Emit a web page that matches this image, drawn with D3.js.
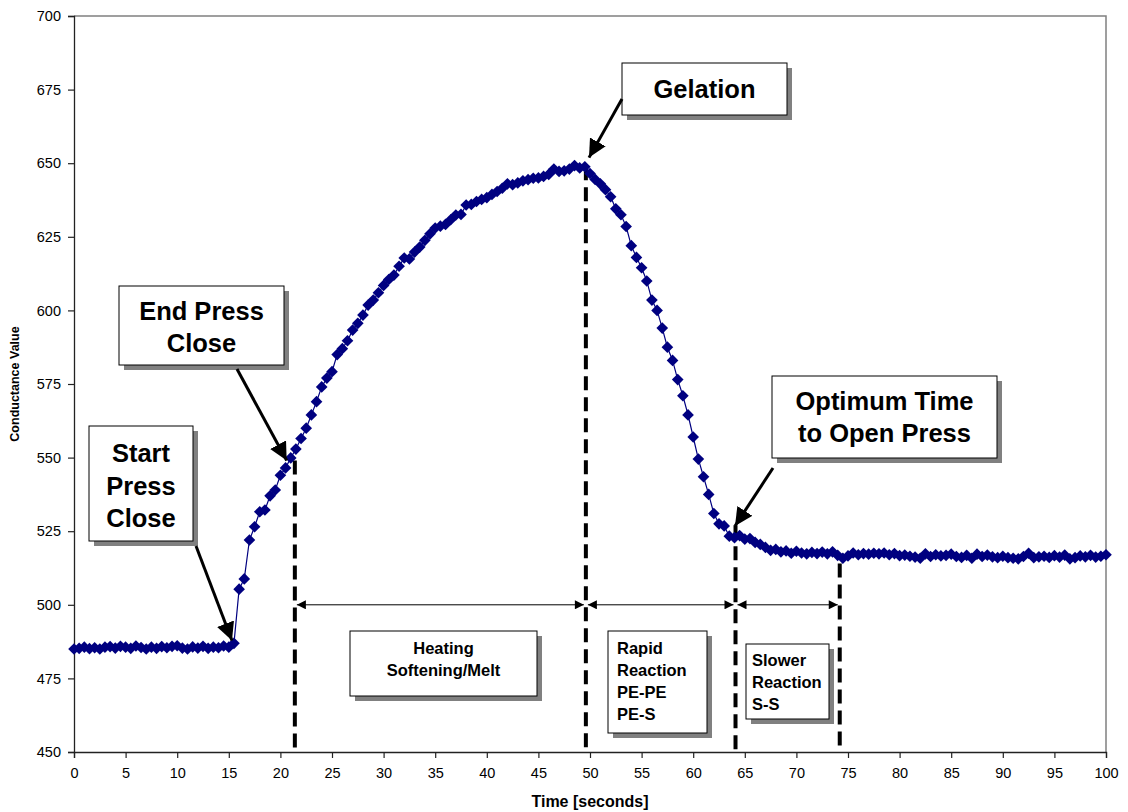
<!DOCTYPE html>
<html>
<head>
<meta charset="utf-8">
<script src="https://cdn.jsdelivr.net/npm/d3@7"></script>
<style>
  html, body { margin: 0; padding: 0; background: #fff; }
  svg { display: block; font-family: "Liberation Sans", Arial, sans-serif; }
</style>
</head>
<body>
<svg id="chart" width="1128" height="812"></svg>
<script>
(function () {
// ---- data ----
const sampleStep = 0.5; // seconds between readings
const conductance = [
  485.0, 485.2, 485.6, 485.1, 485.4, 485.0, 485.6, 485.8, 485.3, 485.9,
  485.6, 485.2, 486.0, 485.5, 485.0, 485.6, 485.2, 485.8, 485.4, 485.9,
  486.1, 485.3, 485.0, 485.7, 485.3, 485.9, 485.2, 485.6, 485.4, 486.0,
  485.6, 486.9, 505.3, 508.8, 522.0, 526.5, 531.6, 532.2, 537.0, 539.0,
  544.0, 546.5, 549.9, 552.9, 556.5, 560.0, 564.5, 569.0, 574.0, 577.0,
  579.2, 585.0, 587.0, 589.7, 593.3, 595.6, 598.4, 601.8, 603.5, 606.0,
  608.5, 610.5, 612.0, 615.0, 617.8, 617.5, 619.8, 621.5, 623.8, 626.0,
  628.0, 628.6, 629.2, 630.8, 632.4, 632.6, 635.8, 636.0, 637.0, 637.7,
  638.3, 639.4, 640.4, 641.5, 643.0, 642.7, 643.3, 644.0, 644.4, 644.9,
  645.0, 645.5, 646.2, 648.0, 647.2, 647.4, 648.0, 649.2, 648.4, 648.8,
  646.5, 644.5, 643.0, 641.0, 638.6, 634.5, 632.5, 628.5, 622.0, 618.0,
  614.5, 610.0, 603.5, 600.0, 594.0, 587.5, 583.0, 576.5, 571.0, 564.5,
  557.0, 549.5, 543.5, 537.5, 531.0, 527.5, 526.8, 523.3, 522.8, 523.5,
  522.3, 522.5, 521.2, 520.5, 519.5, 518.5, 518.8, 518.0, 518.3, 517.5,
  518.2, 517.6, 517.3, 517.8, 517.4, 517.9, 517.3, 518.0, 516.8, 515.8,
  516.6, 517.6, 517.0, 517.4, 517.2, 517.5, 517.3, 517.6, 517.0, 517.4,
  516.7, 516.9, 516.5, 516.2, 515.8, 517.3, 516.4, 517.0, 516.6, 516.8,
  517.2, 516.4, 516.1, 516.8, 515.8, 517.2, 516.4, 516.9, 516.3, 516.0,
  516.5, 516.0, 515.8, 515.6, 516.4, 517.5, 516.0, 516.3, 516.5, 516.1,
  516.7, 516.2, 516.9, 515.6, 516.0, 516.6, 516.3, 516.8, 516.2, 516.5,
  517.0
];
const xTicks = [0, 5, 10, 15, 20, 25, 30, 35, 40, 45, 50, 55, 60, 65, 70, 75, 80, 85, 90, 95, 100];
const yTicks = [450, 475, 500, 525, 550, 575, 600, 625, 650, 675, 700];
const xTitle = "Time [seconds]";
const yTitle = "Conductance Value";
// phase boundaries (time) and the value where each dashed marker starts
const phaseTimes = [21.4, 49.6, 64.1, 74.2];
const phaseTops  = [549, 649, 527, 514];
const spanValue = 500; // level of the double-headed arrows
const phaseLabels = [
  ["Heating", "Softening/Melt"],
  ["Rapid", "Reaction", "PE-PE", "PE-S"],
  ["Slower", "Reaction", "S-S"]
];
const calloutLabels = [
  ["Start", "Press", "Close"],
  ["End Press", "Close"],
  ["Gelation"],
  ["Optimum Time", "to Open Press"]
];

// ---- layout ----
const svg = d3.select("#chart");
const pL = 74, pR = 1106, pT = 16, pB = 752;
const x = d3.scaleLinear().domain([0, 100]).range([pL, pR]);
const y = d3.scaleLinear().domain([450, 700]).range([pB, pT]);

const points = conductance.map((v, i) => ({t: i * sampleStep, v}));

// arrow markers
const defs = svg.append("defs");
defs.append("marker").attr("id", "bigHead")
  .attr("viewBox", "0 0 10 10").attr("refX", 10).attr("refY", 5)
  .attr("markerUnits", "userSpaceOnUse").attr("markerWidth", 18).attr("markerHeight", 18)
  .attr("orient", "auto")
  .append("path").attr("d", "M0,0 L10,5 L0,10 Z").attr("fill", "#000");
defs.append("marker").attr("id", "smallHead")
  .attr("viewBox", "0 0 10 10").attr("refX", 10).attr("refY", 5)
  .attr("markerUnits", "userSpaceOnUse").attr("markerWidth", 11).attr("markerHeight", 9)
  .attr("orient", "auto-start-reverse")
  .append("path").attr("d", "M0,0 L10,5 L0,10 Z").attr("fill", "#000");

// plot frame (top & right in gray)
svg.append("path")
  .attr("d", `M${pL},${pT} H${pR} V${pB}`)
  .attr("fill", "none").attr("stroke", "#808080").attr("stroke-width", 1.5);

// axes
const yAxis = svg.append("g").attr("transform", `translate(${pL},0)`)
  .call(d3.axisLeft(y).tickValues(yTicks).tickSize(6).tickPadding(7).tickFormat(d3.format("d")));
const xAxis = svg.append("g").attr("transform", `translate(0,${pB})`)
  .call(d3.axisBottom(x).tickValues(xTicks).tickSize(6).tickPadding(10).tickFormat(d3.format("d")));
[xAxis, yAxis].forEach(g => {
  g.select(".domain").attr("stroke", "#222").attr("stroke-width", 1.3);
  g.selectAll(".tick line").attr("stroke", "#222").attr("stroke-width", 1.2);
  g.selectAll(".tick text").attr("font-size", 14.5).attr("fill", "#000")
    .attr("font-family", "Liberation Sans, Arial, sans-serif");
});

svg.append("text").attr("x", 590).attr("y", 807).attr("text-anchor", "middle")
  .attr("font-weight", "bold").attr("font-size", 16).text(xTitle);
svg.append("text").attr("transform", `translate(19,${(pT + pB) / 2}) rotate(-90)`)
  .attr("text-anchor", "middle").attr("font-weight", "bold").attr("font-size", 12.5).text(yTitle);

// dashed phase lines
svg.append("g").selectAll("line").data(phaseTimes).join("line")
  .attr("x1", d => x(d)).attr("x2", d => x(d))
  .attr("y1", (d, i) => y(phaseTops[i])).attr("y2", pB)
  .attr("stroke", "#000").attr("stroke-width", 4).attr("stroke-dasharray", "14,7");

// double-headed span arrows
const spans = d3.pairs(phaseTimes);
svg.append("g").selectAll("line").data(spans).join("line")
  .attr("x1", d => x(d[0]) + 2).attr("x2", d => x(d[1]) - 2)
  .attr("y1", y(spanValue)).attr("y2", y(spanValue))
  .attr("stroke", "#000").attr("stroke-width", 1)
  .attr("marker-start", "url(#smallHead)").attr("marker-end", "url(#smallHead)");

// series line + diamond markers
svg.append("path").datum(points)
  .attr("d", d3.line().x(d => x(d.t)).y(d => y(d.v)))
  .attr("fill", "none").attr("stroke", "#000080").attr("stroke-width", 1.2);
const diamond = d3.symbol(d3.symbolSquare, 68);
svg.append("g").selectAll("path").data(points).join("path")
  .attr("d", diamond)
  .attr("transform", d => `translate(${x(d.t)},${y(d.v)}) rotate(45)`)
  .attr("fill", "#000080");

// boxes helper
function box(x0, y0, x1, y1, lines, opts) {
  const g = svg.append("g");
  g.append("rect").attr("x", x0 + 5).attr("y", y0 + 5).attr("width", x1 - x0).attr("height", y1 - y0)
    .attr("fill", "#808080");
  g.append("rect").attr("x", x0).attr("y", y0).attr("width", x1 - x0).attr("height", y1 - y0)
    .attr("fill", "#fff").attr("stroke", "#000").attr("stroke-width", 1);
  const tx = opts.anchor === "start" ? x0 + opts.pad : (x0 + x1) / 2;
  g.selectAll("text").data(lines).join("text")
    .attr("x", tx).attr("y", (d, i) => opts.first + i * opts.lh)
    .attr("text-anchor", opts.anchor || "middle")
    .attr("dominant-baseline", "central")
    .attr("font-weight", "bold").attr("font-size", opts.size).text(d => d);
}
function arrow(x1, y1, x2, y2) {
  svg.append("line").attr("x1", x1).attr("y1", y1).attr("x2", x2).attr("y2", y2)
    .attr("stroke", "#000").attr("stroke-width", 3).attr("marker-end", "url(#bigHead)");
}

// phase boxes
box(350, 631, 537, 696, phaseLabels[0], {size: 16.5, first: 648, lh: 22});
box(608, 631, 707, 733, phaseLabels[1], {size: 16.5, first: 648, lh: 22, anchor: "start", pad: 9});
box(746, 644, 829, 719, phaseLabels[2], {size: 16.5, first: 660, lh: 22, anchor: "start", pad: 6});

// callouts
box(89, 426, 193, 541, calloutLabels[0], {size: 25.5, first: 453, lh: 32.5});
arrow(196, 546, x(15.5) - 2, y(486.5) - 4);
box(119, 286, 284, 365, calloutLabels[1], {size: 25.5, first: 311, lh: 32});
arrow(237, 369, x(20.9) - 3, y(549));
box(622, 63, 787, 115, calloutLabels[2], {size: 25.5, first: 89, lh: 32});
arrow(622, 99, 589, y(648.5) - 10);
box(772, 376, 997, 458, calloutLabels[3], {size: 25.5, first: 401, lh: 32});
arrow(773, 468, 735, 526);
})();
</script>
</body>
</html>
